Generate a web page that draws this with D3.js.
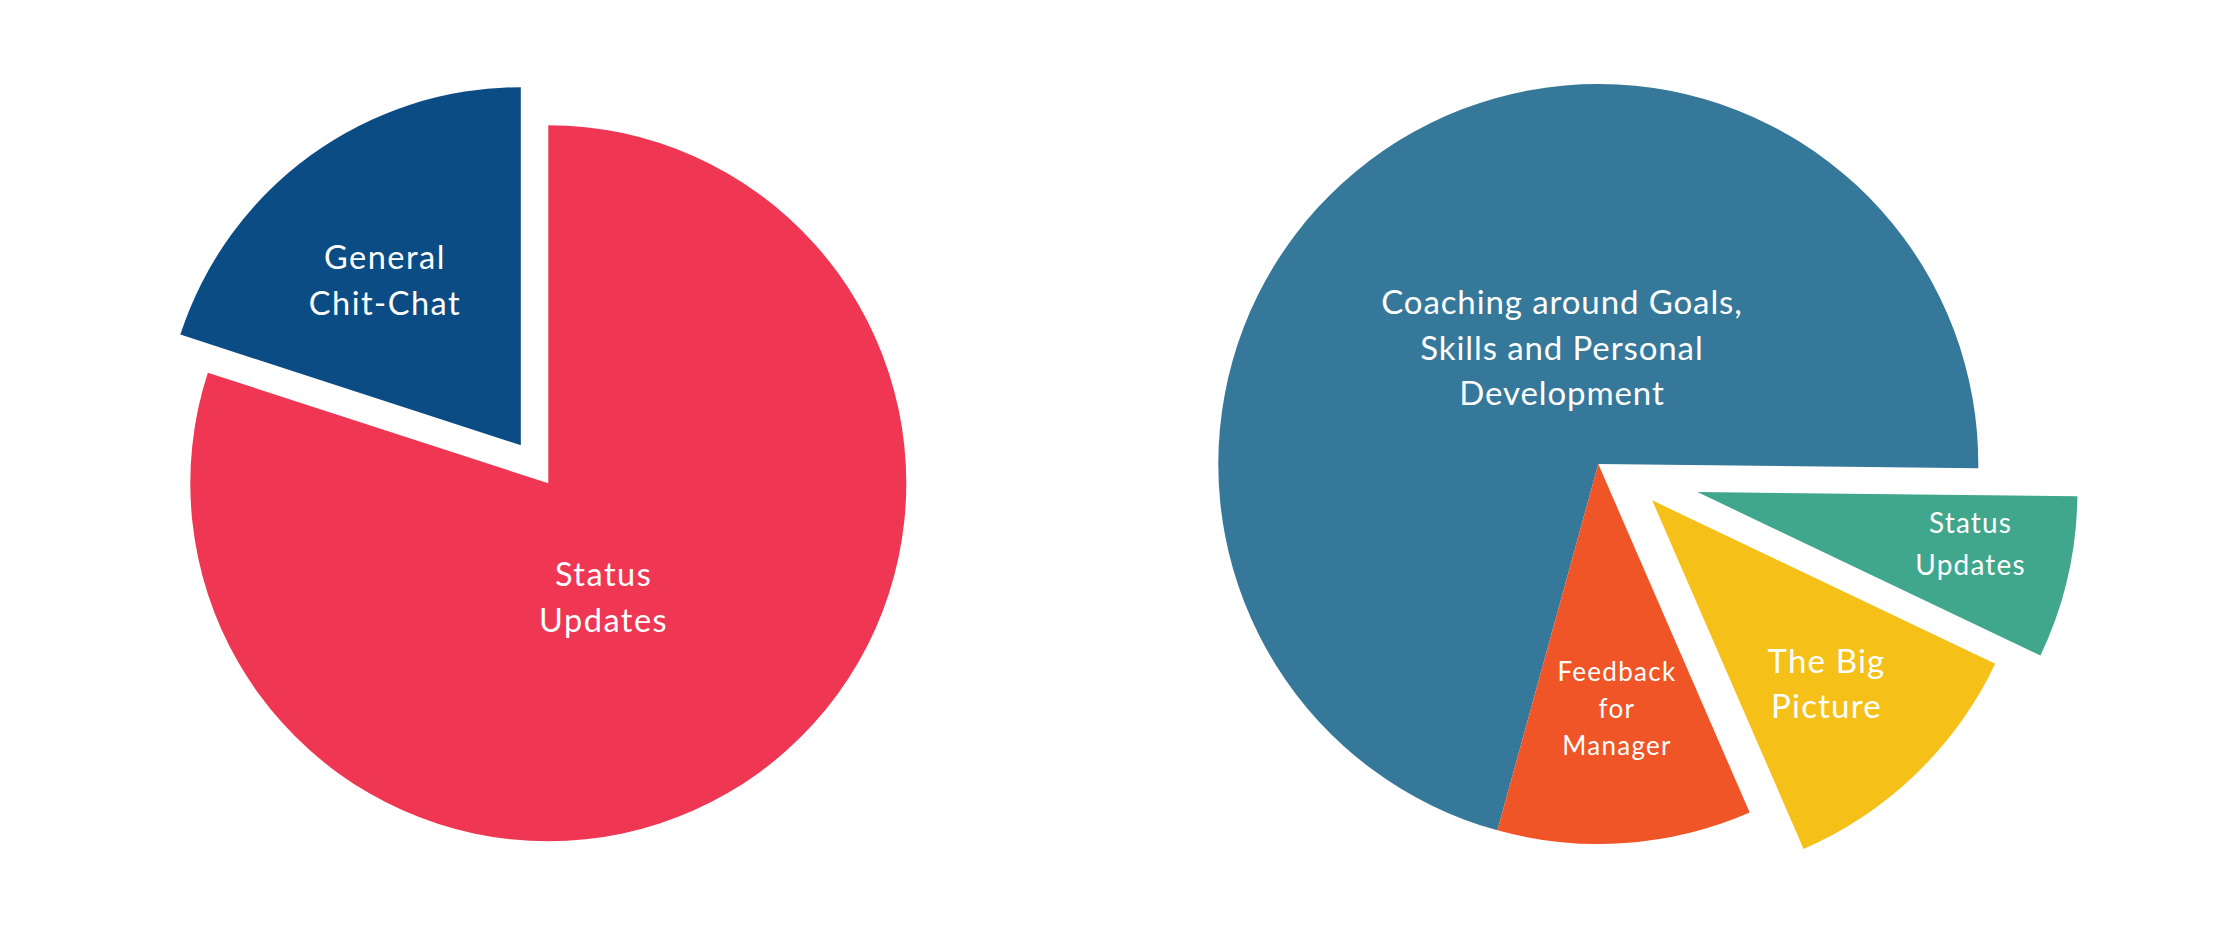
<!DOCTYPE html>
<html>
<head>
<meta charset="utf-8">
<script src="https://cdn.jsdelivr.net/npm/d3@7"></script>
<style>
  html, body { margin: 0; padding: 0; background: #ffffff; }
  svg { display: block; }
  text { font-family: "Lato", "Noto Sans", sans-serif; fill: #ffffff; }
</style>
</head>
<body>
<svg id="chart" width="2237" height="926"></svg>
<script>
// ---- Data: left pie ----
const leftCategories = ["Status Updates", "General Chit-Chat"];
const leftValues = [80, 20];
const leftColors = ["#EF3753", "#0C4C84"];

// ---- Data: right pie ----
const rightCategories = [
  "Coaching around Goals, Skills and Personal Development",
  "Status Updates",
  "The Big Picture",
  "Feedback for Manager"
];
const rightValues = [70.9, 6.9, 11.4, 10.8];
const rightColors = ["#367899", "#40A68C", "#F5C118", "#F05527"];

// ---- Label line breaks ----
const leftLabelLines = [["Status", "Updates"], ["General", "Chit-Chat"]];
const rightLabelLines = [
  ["Coaching around Goals,", "Skills and Personal", "Development"],
  ["Status", "Updates"],
  ["The Big", "Picture"],
  ["Feedback", "for", "Manager"]
];

// ---- Layout / style (not data) ----
const deg = Math.PI / 180;
const pies = [
  {
    categories: leftCategories, values: leftValues, colors: leftColors, lines: leftLabelLines,
    cx: 548.3, cy: 483.3, r: 358, startDeg: 0,
    explode: [null, { dist: 47, angle: -35.8 }],
    labels: [
      { angle: 156.2, r: 137, size: 32.5, lh: 46, ls: 1.5 },
      { angle: -40.5, r: 251.5, size: 32.5, lh: 46, ls: 1.5 }
    ]
  },
  {
    categories: rightCategories, values: rightValues, colors: rightColors, lines: rightLabelLines,
    cx: 1598.3, cy: 464, r: 380, startDeg: 195.4,
    explode: [null, { dist: 103, angle: 105.8 }, { dist: 65, angle: 124 }, null],
    labels: [
      { angle: -19.2, r: 110.6, size: 33, lh: 45.3, ls: 0.9 },
      { angle: 103.6, r: 383, size: 28, lh: 42.5, ls: 1.2 },
      { angle: 135.4, r: 325, size: 33, lh: 45, ls: 1.2 },
      { angle: 175.8, r: 255, size: 26, lh: 37, ls: 1.3 }
    ]
  }
];

const svg = d3.select("#chart");
svg.append("rect").attr("width", 2237).attr("height", 926).attr("fill", "#ffffff");

pies.forEach(p => {
  const pie = d3.pie().sort(null).value(d => d)
    .startAngle(p.startDeg * deg).endAngle(p.startDeg * deg + 2 * Math.PI);
  const arcs = pie(p.values);
  const arc = d3.arc().innerRadius(0).outerRadius(p.r);
  const color = d3.scaleOrdinal().domain(p.categories).range(p.colors);

  const g = svg.append("g").attr("transform", `translate(${p.cx},${p.cy})`);

  g.selectAll("path.slice").data(arcs).enter().append("path")
    .attr("class", "slice")
    .attr("d", arc)
    .attr("fill", (d, i) => color(p.categories[i]))
    .attr("transform", (d, i) => {
      const e = p.explode[i];
      if (!e) return null;
      const dx = e.dist * Math.sin(e.angle * deg);
      const dy = -e.dist * Math.cos(e.angle * deg);
      return `translate(${dx},${dy})`;
    });

  arcs.forEach((d, i) => {
    const L = p.labels[i];
    const lx = L.r * Math.sin(L.angle * deg);
    const ly = -L.r * Math.cos(L.angle * deg);
    const lines = p.lines[i];
    const n = lines.length;
    const t = g.append("text")
      .attr("text-anchor", "middle")
      .attr("font-size", L.size)
      .attr("letter-spacing", L.ls);
    lines.forEach((s, k) => {
      t.append("tspan")
        .attr("x", lx)
        .attr("y", ly + (k - (n - 1) / 2) * L.lh)
        .text(s);
    });
  });
});
</script>
</body>
</html>
